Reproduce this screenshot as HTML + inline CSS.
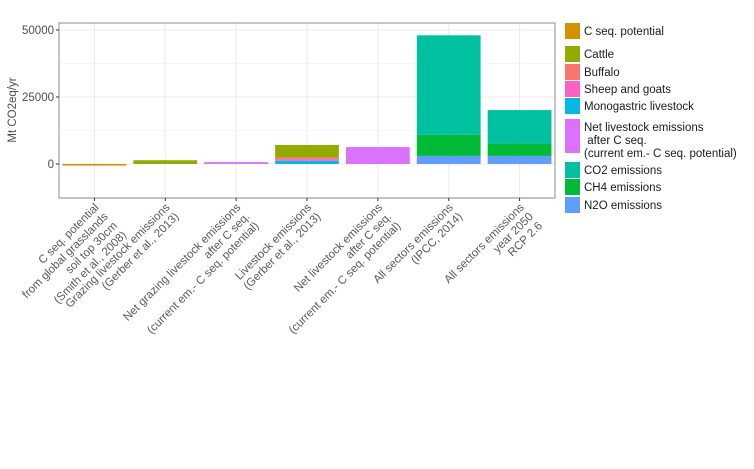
<!DOCTYPE html>
<html><head><meta charset="utf-8"><style>
html,body{margin:0;padding:0;background:#fff;}
svg text{font-family:"Liberation Sans",sans-serif;}
</style></head><body>
<svg id="chart" width="754" height="464" viewBox="0 0 754 464">
<rect x="0" y="0" width="754" height="464" fill="#fff"/>
<g id="grid"></g>
<g id="bars"></g>
<rect x="59" y="23" width="496" height="175" fill="none" stroke="#8c8c8c" stroke-width="1"/>
<g id="yaxis"></g>
<g id="xaxis"></g>
<text x="16" y="110" font-size="11.5" fill="#4d4d4d" text-anchor="middle" transform="rotate(-90 16 110)">Mt CO2eq/yr</text>
<g id="legend"></g>
</svg>
<script>
const categories = [
 ["C seq. potential","from global grasslands","soil top 30cm","(Smith et al., 2008)"],
 ["Grazing livestock emissions","(Gerber et al., 2013)"],
 ["Net grazing livestock emissions","after C seq.","(current em.- C seq. potential)"],
 ["Livestock emissions","(Gerber et al., 2013)"],
 ["Net livestock emissions","after C seq.","(current em.- C seq. potential)"],
 ["All sectors emissions","(IPCC, 2014)"],
 ["All sectors emissions","year 2050","RCP 2.6"]
];
const seriesNames = ["C seq. potential","Cattle","Buffalo","Sheep and goats","Monogastric livestock","Net livestock emissions\n after C seq.\n(current em.- C seq. potential)","CO2 emissions","CH4 emissions","N2O emissions"];
const seriesColors = ["#D39200","#93AA00","#F8766D","#FF61C3","#00B9E3","#DB72FB","#00C19F","#00BA38","#619CFF"];
const cSeqValues = [-600,0,0,0,0,0,0];
const cattleValues = [0,1400,0,4600,0,0,0];
const buffaloValues = [0,0,0,700,0,0,0];
const sheepValues = [0,0,0,600,0,0,0];
const monoValues = [0,0,0,1200,0,0,0];
const netValues = [0,0,700,0,6300,0,0];
const co2Values = [0,0,0,0,0,37100,12500];
const ch4Values = [0,0,0,0,0,7900,4600];
const n2oValues = [0,0,0,0,0,3000,3000];
const yTicks = [0,25000,50000];
const yMinor = [-12500,12500,37500];

const NS="http://www.w3.org/2000/svg";
const px0=59,px1=555,py0=23,py1=198, yMin=-12700, yMax=52600;
const y=v=>py1-(v-yMin)/(yMax-yMin)*(py1-py0);
const step=(px1-px0)/categories.length;
const xc=i=>px0+step*(i+0.5);
const bw=step*0.9;
function mk(t,a,p){const e=document.createElementNS(NS,t);for(const k in a)e.setAttribute(k,a[k]);p.appendChild(e);return e;}
const grid=document.getElementById('grid');
mk('rect',{x:px0,y:py0,width:px1-px0,height:py1-py0,fill:'#fff'},grid);
yMinor.forEach(v=>{const l=mk('line',{x1:px0,x2:px1,y1:y(v),y2:y(v),stroke:'#f2f2f2','stroke-width':0.6},grid);

});
yTicks.forEach(v=>{const l=mk('line',{x1:px0,x2:px1,y1:y(v),y2:y(v),stroke:'#ebebeb','stroke-width':1},grid);

});
categories.forEach((c,i)=>{const l=mk('line',{x1:xc(i),x2:xc(i),y1:py0,y2:py1,stroke:'#ebebeb','stroke-width':1},grid);

});
const bars=document.getElementById('bars');
const order=[[8,n2oValues],[7,ch4Values],[6,co2Values],[4,monoValues],[3,sheepValues],[2,buffaloValues],[1,cattleValues],[5,netValues],[0,cSeqValues]];
categories.forEach((c,i)=>{let pos=0,neg=0;
 order.forEach(([s,arr])=>{const v=arr[i];if(!v)return;let a,b;
  if(v>0){a=pos;b=pos+v;pos=b;}else{a=neg+v;b=neg;neg=a;}
  const r=mk('rect',{x:xc(i)-bw/2,y:y(b),width:bw,height:Math.max(0.5,y(a)-y(b)),fill:seriesColors[s]},bars);
  
  
 });});
const ya=document.getElementById('yaxis');
yTicks.forEach(v=>{mk('line',{x1:px0-3,x2:px0,y1:y(v),y2:y(v),stroke:'#333'},ya);
 const t=mk('text',{x:px0-5,y:y(v)+4,'font-size':11.5,fill:'#4d4d4d','text-anchor':'end'},ya);t.textContent=v;
 
 });
const xa=document.getElementById('xaxis');
categories.forEach((c,i)=>{const x=xc(i);mk('line',{x1:x,x2:x,y1:py1,y2:py1+3,stroke:'#333'},xa);
 const t=mk('text',{transform:`translate(${x+5},${py1+10}) rotate(-45)`,'font-size':11.5,fill:'#595959','text-anchor':'end'},xa);
 
 
 c.forEach((ln,j)=>{const s=mk('tspan',{x:0,y:j*13},t);s.textContent=ln;});});
const lg=document.getElementById('legend');
const keys=[[23,16],[46,16],[64,16],[81,16],[98,16],[119,34],[162,16],[179,16],[197,16]];
seriesNames.forEach((n,i)=>{const [ky,kh]=keys[i];
 const r=mk('rect',{x:565,y:ky,width:15,height:kh,fill:seriesColors[i]},lg);
 
 
 const t=mk('text',{'font-size':11.5,fill:'#1a1a1a'},lg);
 
 
 n.split('\n').forEach((ln,j)=>{const s=mk('tspan',{x:584,y:ky+12+j*13},t);s.setAttribute('xml:space','preserve');s.textContent=ln;});});
</script>
</body></html>
